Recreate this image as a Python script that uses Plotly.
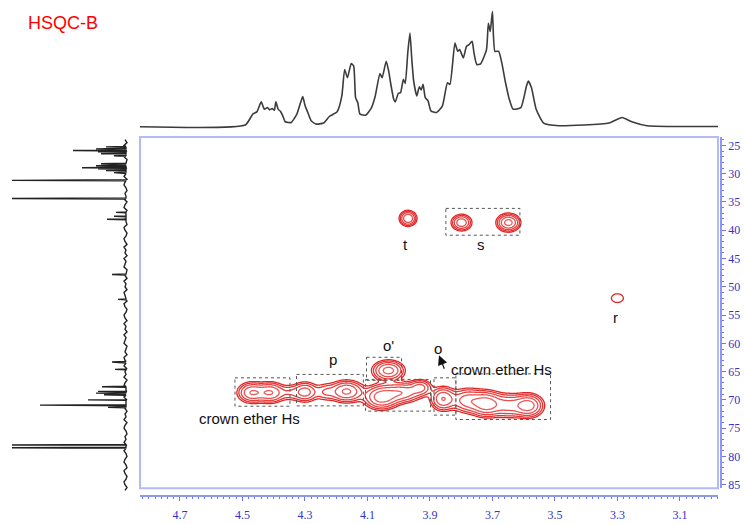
import numpy as np
import plotly.graph_objects as go

# ---------------- data ----------------
# 1H projection (top): chemical shift (ppm) and intensity (a.u.)
top_ppm = [4.828, 4.491, 4.467, 4.454, 4.440, 4.430, 4.420, 4.413, 4.405, 4.398, 4.393, 4.386,
           4.378, 4.371, 4.363, 4.344, 4.326, 4.314, 4.307, 4.300, 4.293, 4.280, 4.265, 4.240,
           4.222, 4.197, 4.182, 4.173, 4.164, 4.152, 4.144, 4.138, 4.131, 4.124, 4.105, 4.087,
           4.075, 4.060, 4.053, 4.040, 4.032, 4.026, 4.016, 4.011, 4.001, 3.994, 3.985, 3.979,
           3.971, 3.964, 3.958, 3.952, 3.942, 3.934, 3.928, 3.922, 3.915, 3.906, 3.897, 3.879,
           3.860, 3.844, 3.836, 3.820, 3.811, 3.805, 3.798, 3.793, 3.783, 3.775, 3.765, 3.759,
           3.750, 3.738, 3.719, 3.713, 3.707, 3.700, 3.692, 3.680, 3.670, 3.658, 3.646, 3.634,
           3.609, 3.591, 3.585, 3.575, 3.560, 3.536, 3.487, 3.327, 3.285, 3.254, 3.205, 2.978]
top_int = [0, 1.7, 12.7, 15, 25, 17.7, 19.3, 17, 18.3, 16.7, 25, 17.7,
           15.3, 11, 5, 4.3, 12.7, 24.3, 30.3, 21.7, 16, 6, 2.7, 3.7,
           10.3, 15, 31, 57.7, 49.3, 63.7, 61, 29.3, 24.3, 12.7, 11.7, 19.3,
           31, 53.7, 49.3, 66, 56, 44.3, 27.7, 25, 33.7, 34.3, 47.7, 43.7,
           74.3, 94.3, 67.7, 46, 31, 40.3, 37, 42.7, 29.3, 26, 16, 14.3,
           21, 44.3, 42.7, 84.3, 76, 77.7, 72.7, 69.3, 81, 82.7, 86, 74.3,
           62.7, 63.3, 77.7, 104.3, 96, 116, 76, 76, 64.3, 44.3, 27.7, 17.7,
           19.3, 41, 46, 39.3, 17.7, 3.7, 1, 3.7, 9.3, 5, 1, 0.3]

# 13C projection (left): line positions (ppm) and heights (a.u.)
c13_ppm = [25.26, 25.61, 25.91, 26.14, 26.49, 26.84,
           28.25, 28.60, 28.95, 29.12, 29.47, 29.82,
           31.18, 34.39,
           36.84, 37.54, 38.07,
           47.84, 52.23,
           63.30, 64.60,
           67.68, 68.50, 68.80, 69.10,
           70.00, 70.93, 71.32,
           77.98, 78.45]
c13_int = [20, 30, 53, 28, 25, 12,
           25, 30, 44, 28, 20, 12,
           114, 114,
           10, 12, 19,
           14, 8,
           14, 11,
           24, 28, 30, 22,
           38, 86, 18,
           114, 114]
# baseline wiggle of the 13C trace (a.u.), one value per 0.5 ppm from 24 ppm
c13_noise = [1, -1, 2, 0, -1, 1, 2, -1, 0, 2, -1, 1, 0, 2, -1, 1, 2, 0, -1, 1,
             0, 2, -1, 1, 2, -1, 0, 1, 2, 0, -1, 2, 1, -1, 0, 2, 1, -1, 2, 0,
             1, -1, 2, 0, 1, 2, -1, 0, 1, -1, 2, 0, 1, -1, 2, 1, 0, -1, 2, 1,
             -1, 0, 2, 1, -1, 2, 0, 1, -1, 2, 0, 1, 2, -1, 0, 1, -1, 2, 1, 0,
             2, -1, 1, 0, 2, -1, 1, 2, 0, -1, 1, 2, -1, 0, 2, 1, -1, 1, 0, 2,
             -1, 1, 2, 0, -1, 1, 0, 2, -1, 1, 2, 0, -1, 1, 2, 0, -1, 2, 1, -1,
             0, 2, 1, -1, 1]

# HSQC cross peaks: 1H shift, 13C shift, amplitude, widths
peak_h = [3.970, 3.799, 3.649, 3.300, 4.033,
          4.470, 4.410, 4.350, 4.300, 4.235, 4.167,
          4.055, 3.990, 3.930, 3.858,
          3.780, 3.719, 3.650, 3.586]
peak_c = [37.9, 38.65, 38.65, 52.0, 64.8,
          68.7, 68.7, 68.7, 68.6, 68.6, 68.5,
          69.5, 68.7, 67.8, 69.8,
          70.1, 70.7, 71.0, 71.0]
peak_amp = [1.0, 0.9, 1.2, 0.25, 1.2,
            1.0, 1.0, 0.3, 0.8, 0.35, 1.1,
            1.3, 0.9, 0.7, 1.0,
            0.8, 1.3, 0.7, 1.3]
peak_wh = [0.015, 0.018, 0.020, 0.020, 0.027,
           0.025, 0.025, 0.02, 0.023, 0.02, 0.030,
           0.030, 0.035, 0.020, 0.022,
           0.030, 0.028, 0.030, 0.026]
peak_wc = [0.75, 0.8, 0.85, 0.8, 0.95,
           1.0, 1.0, 0.85, 1.0, 0.95, 1.05,
           1.15, 1.0, 0.8, 1.15,
           1.2, 1.2, 1.2, 1.1]

# dashed boxes (1H from, 1H to, 13C from, 13C to)
box_h0 = [3.849, 4.103, 4.524, 4.327, 4.106, 3.887, 3.817]
box_h1 = [3.612, 3.991, 4.348, 4.113, 3.898, 3.817, 3.514]
box_c0 = [36.14, 62.46, 66.09, 65.49, 66.37, 66.09, 65.39]
box_c1 = [40.88, 66.54, 71.11, 71.05, 71.98, 72.68, 73.46]

# labels
label_text = ["t", "s", "r", "o'", "p", "o", "crown ether Hs", "crown ether Hs"]
label_h = [3.977, 3.737, 3.305, 4.034, 4.210, 3.874, 3.670, 4.476]
label_c = [42.5, 42.6, 55.4, 60.3, 62.8, 60.9, 64.7, 73.3]

x_ticks = [4.7, 4.5, 4.3, 4.1, 3.9, 3.7, 3.5, 3.3, 3.1]
y_ticks = [25, 30, 35, 40, 45, 50, 55, 60, 65, 70, 75, 80, 85]

# ---------------- geometry ----------------
W, H = 744, 524
def px(x):
    return x / W
def py(y):
    return 1 - y / H

main_xd = [px(140), px(718)]
main_yd = [py(492), py(138)]
x_range = [4.828, 2.978]
y_range = [85.61, 23.51]

fig = go.Figure()

# 2D contour field built from the peak list
gx = np.arange(3.2, 4.62, 0.003)
gy = np.arange(30.0, 80.0, 0.12)
XX, YY = np.meshgrid(gx, gy)
field = np.zeros_like(XX)
for h, c, a, wh, wc in zip(peak_h, peak_c, peak_amp, peak_wh, peak_wc):
    field += a * np.exp(-((XX - h) ** 2) / (2 * wh ** 2) - ((YY - c) ** 2) / (2 * wc ** 2))
zlog = np.round(np.log10(np.maximum(field, 1e-3)), 3)

fig.add_trace(go.Contour(
    x=np.round(gx, 4), y=np.round(gy, 3), z=zlog,
    contours=dict(start=-0.8, end=0.2, size=0.2, coloring="lines"),
    colorscale=[[0, "#e02424"], [1, "#f06a6a"]],
    line=dict(width=1.3), showscale=False, hoverinfo="skip",
    xaxis="x", yaxis="y"))

# top 1H trace
fig.add_trace(go.Scatter(x=top_ppm, y=top_int, mode="lines",
                         line=dict(color="#3c3c3c", width=1.6, shape="spline", smoothing=0.5),
                         xaxis="x2", yaxis="y2", hoverinfo="skip"))

# left 13C trace
pts = []
for i, v in enumerate(c13_noise):
    pts.append((24.0 + 0.5 * i, v))
for p, hgt in zip(c13_ppm, c13_int):
    pts.append((p - 0.09, 0))
    pts.append((p, hgt))
    pts.append((p + 0.09, 0))
pts.sort()
fig.add_trace(go.Scatter(x=[v for _, v in pts], y=[p for p, _ in pts], mode="lines",
                         line=dict(color="#222222", width=1.4),
                         xaxis="x3", yaxis="y3", hoverinfo="skip"))

shapes = []
# frame
shapes.append(dict(type="rect", xref="paper", yref="paper",
                   x0=main_xd[0], x1=main_xd[1], y0=main_yd[0], y1=main_yd[1],
                   line=dict(color="#b3bbf6", width=2)))
for a0, a1, b0, b1 in zip(box_h0, box_h1, box_c0, box_c1):
    shapes.append(dict(type="rect", xref="x", yref="y", x0=a0, x1=a1, y0=b0, y1=b1,
                       line=dict(color="#555555", width=1, dash="dot")))

annotations = []
for t, xh, yc in zip(label_text, label_h, label_c):
    annotations.append(dict(x=xh, y=yc, xref="x", yref="y", text=t, showarrow=False,
                            font=dict(family="Liberation Sans, Arial", size=15, color="#111111")))
annotations.append(dict(x=3.871, y=62.1, ax=3.852, ay=64.74, xref="x", yref="y",
                        axref="x", ayref="y", text="", showarrow=True,
                        arrowhead=2, arrowsize=1.6, arrowwidth=1.2, arrowcolor="#111111"))
annotations.append(dict(x=px(26), y=py(23.5), xref="paper", yref="paper", text="HSQC-B",
                        xanchor="left", yanchor="middle", showarrow=False,
                        font=dict(family="Liberation Sans, Arial", size=18, color="#ff0000")))

tickfont = dict(family="Liberation Serif, Times New Roman", size=12, color="#3434c4")

fig.update_layout(
    width=W, height=H, margin=dict(l=0, r=0, t=0, b=0),
    paper_bgcolor="white", plot_bgcolor="white", showlegend=False,
    shapes=shapes, annotations=annotations,
    xaxis=dict(domain=main_xd, range=x_range, anchor="free", position=py(500),
               showline=True, linecolor="#8f97ee", linewidth=1.5,
               ticks="outside", ticklen=4, tickcolor="#6c74e6", tickwidth=1,
               ticklabelstandoff=4,
               tickvals=x_ticks, ticktext=[f"{v:.1f}" for v in x_ticks], tickfont=tickfont,
               minor=dict(dtick=0.02, tick0=3.1, ticks="outside", ticklen=2, tickcolor="#6c74e6"),
               showgrid=False, zeroline=False),
    yaxis=dict(domain=main_yd, range=y_range, anchor="free", position=px(721), side="right",
               showline=True, linecolor="#8f97ee", linewidth=1.5,
               ticks="outside", ticklen=4, tickcolor="#6c74e6", tickwidth=1,
               tickvals=y_ticks, ticktext=[str(v) for v in y_ticks], tickfont=tickfont,
               minor=dict(dtick=1, tick0=25, ticks="outside", ticklen=2, tickcolor="#6c74e6"),
               showgrid=False, zeroline=False),
    xaxis2=dict(domain=main_xd, range=x_range, anchor="y2", visible=False),
    yaxis2=dict(domain=[py(130), 1.0], range=[-2.3, 127.7], anchor="x2", visible=False),
    xaxis3=dict(domain=[0, px(135)], range=[126, -9], anchor="y3", visible=False),
    yaxis3=dict(domain=[py(496), py(138)], range=[86.32, 23.51], anchor="x3", visible=False),
)

fig.write_html("out.html")
